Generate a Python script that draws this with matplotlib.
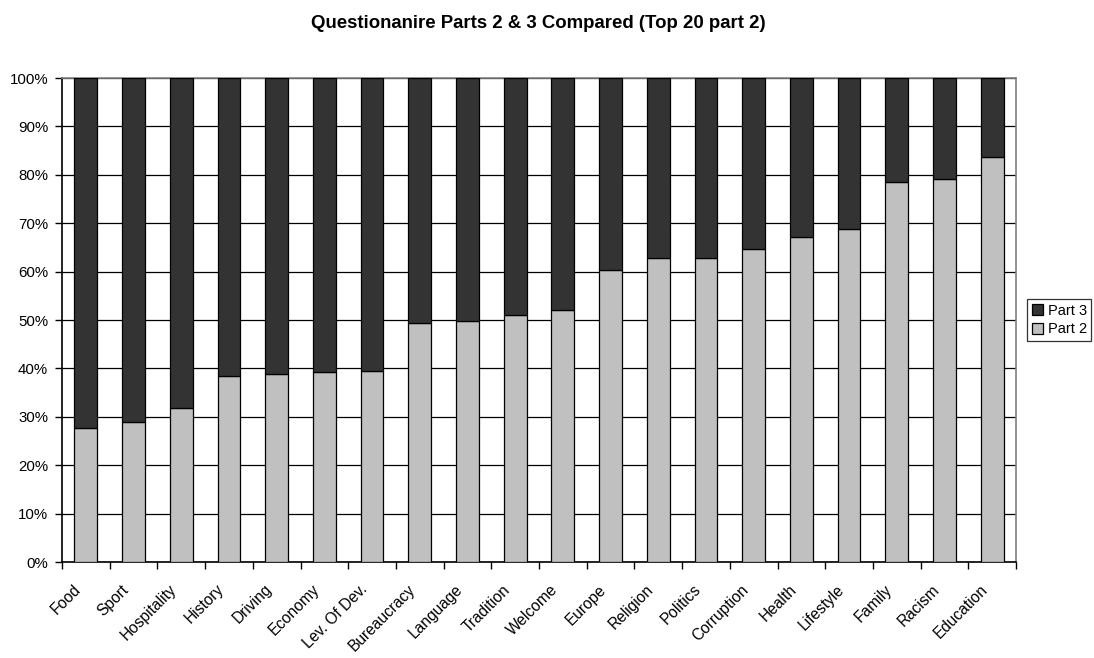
import matplotlib
matplotlib.use("Agg")
import matplotlib.pyplot as plt
import numpy as np
from matplotlib.ticker import PercentFormatter, FixedLocator
from matplotlib.patches import Patch
from matplotlib.transforms import ScaledTranslation

plt.rcParams['font.family'] = ['Liberation Sans', 'DejaVu Sans']

categories = ["Food", "Sport", "Hospitality", "History", "Driving", "Economy",
              "Lev. Of Dev.", "Bureaucracy", "Language", "Tradition", "Welcome",
              "Europe", "Religion", "Politics", "Corruption", "Health",
              "Lifestyle", "Family", "Racism", "Education"]
part2 = [27.6, 28.9, 31.8, 38.5, 38.9, 39.3, 39.5, 49.3, 49.7, 51.0, 52.1,
         60.3, 62.8, 62.9, 64.7, 67.1, 68.9, 78.5, 79.1, 83.7]
part3 = [100 - v for v in part2]

fig = plt.figure(figsize=(10.94, 6.58), dpi=100)
ax = fig.add_axes([62/1094, 1 - 562/658, (1016 - 62)/1094, (562 - 78)/658])

x = np.arange(len(categories))
w = 1 / 2.1
ax.bar(x, part2, width=w, color="#C0C0C0", edgecolor="black", linewidth=0.9, zorder=3)
ax.bar(x, part3, width=w, bottom=part2, color="#333333", edgecolor="black",
       linewidth=0.9, zorder=3)

ax.set_xlim(-0.5, len(categories) - 0.5)
ax.set_ylim(0, 100)
ax.set_yticks(np.arange(0, 101, 10))
ax.yaxis.set_major_formatter(PercentFormatter(decimals=0))
ax.yaxis.grid(True, color="black", linewidth=0.9, zorder=1)
ax.set_axisbelow(True)

ax.set_xticks(x)
ax.set_xticklabels(categories, rotation=45, ha="right", va="center",
                   rotation_mode="anchor")
ax.xaxis.set_minor_locator(FixedLocator(np.arange(-0.5, len(categories), 1.0)))
ax.tick_params(axis="x", which="major", length=0, pad=18, labelsize=11.2)
ax.tick_params(axis="x", which="minor", length=5, width=1, color="black")
ax.tick_params(axis="y", length=5, width=1, labelsize=10.8, pad=5)

# nudge the slanted category labels slightly left of the bar centres
shift = ScaledTranslation(-7/100, 0, fig.dpi_scale_trans)
for lbl in ax.get_xticklabels():
    lbl.set_transform(lbl.get_transform() + shift)

for side in ("left", "bottom"):
    ax.spines[side].set_color("black")
    ax.spines[side].set_linewidth(1.2)
for side in ("top", "right"):
    ax.spines[side].set_color("#808080")
    ax.spines[side].set_linewidth(1.2)

fig.text(538.5/1094, 1 - 23/658, "Questionanire Parts 2 & 3 Compared (Top 20 part 2)",
         ha="center", va="center", fontsize=13.4, fontweight="bold")

handles = [Patch(facecolor="#333333", edgecolor="black", linewidth=0.9, label="Part 3"),
           Patch(facecolor="#C0C0C0", edgecolor="black", linewidth=0.9, label="Part 2")]
leg = ax.legend(handles=handles, loc="center left", bbox_to_anchor=(1.012, 0.5),
                fontsize=10.5, frameon=True, fancybox=False, handlelength=0.8,
                handleheight=0.8, handletextpad=0.3, borderpad=0.3, labelspacing=0.3,
                borderaxespad=0)
leg.get_frame().set_edgecolor("black")
leg.get_frame().set_linewidth(0.9)

fig.savefig("out.png", dpi=100)
